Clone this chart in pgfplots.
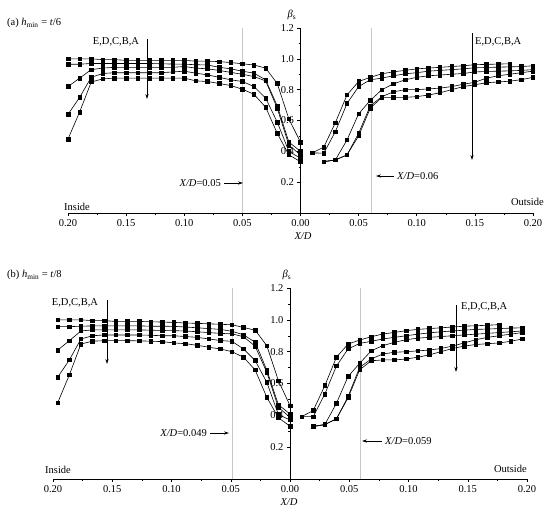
\documentclass[border=0pt]{standalone}
\usepackage{fontspec}
\setmainfont{Liberation Serif}
\usepackage{pgfplots}
\usepackage{pgfplotstable}
\pgfplotsset{compat=1.18}
\usetikzlibrary{arrows.meta}

\pgfplotstableread{
X    c1    c2    c3    c4    c5
0.20 1.00  0.965 0.82  0.64  0.48
0.19 1.00  0.965 0.875 0.75  0.655
0.18 1.00  0.97  0.93  0.88  0.85
0.17 0.995 0.97  0.94  0.905 0.87
0.16 0.995 0.97  0.945 0.91  0.875
0.15 0.99  0.97  0.945 0.91  0.875
0.14 0.99  0.97  0.945 0.91  0.875
0.13 0.99  0.97  0.945 0.91  0.875
0.12 0.99  0.968 0.945 0.91  0.875
0.11 0.99  0.966 0.945 0.915 0.875
0.10 0.99  0.965 0.95  0.92  0.875
0.09 0.985 0.962 0.94  0.907 0.857
0.08 0.985 0.96  0.935 0.896 0.853
0.07 0.982 0.945 0.925 0.88  0.84
0.06 0.976 0.935 0.912 0.864 0.827
0.05 0.968 0.92  0.90  0.853 0.803
0.04 0.96  0.907 0.885 0.82  0.77
0.03 0.94  0.864 0.857 0.745 0.686
0.02 0.84  0.695 0.68  0.59  0.517
0.01 0.61  0.46  0.44  0.40  0.377
0.00 0.46  0.40  0.377 0.355 0.333
}\Ain

\pgfplotstableread{
X    r1    r2    r3    r4    r5
0.01 0.39  0.39  nan   nan   nan
0.02 0.427 0.388 0.333 0.333 0.333
0.03 0.586 0.528 0.344 0.344 0.344
0.04 0.766 0.71  0.474 0.377 0.377
0.05 0.853 0.82  0.643 0.517 0.50
0.06 0.88  0.864 0.73  0.695 0.68
0.07 0.903 0.875 0.80  0.755 0.75
0.08 0.916 0.89  0.838 0.786 0.75
0.09 0.925 0.903 0.864 0.80  0.75
0.10 0.935 0.91  0.88  0.80  0.755
0.11 0.94  0.92  0.89  0.805 0.765
0.12 0.945 0.925 0.895 0.81  0.78
0.13 0.95  0.93  0.90  0.82  0.80
0.14 0.955 0.935 0.905 0.835 0.82
0.15 0.962 0.942 0.915 0.848 0.832
0.16 0.964 0.944 0.918 0.875 0.845
0.17 0.966 0.946 0.92  0.89  0.85
0.18 0.968 0.948 0.922 0.90  0.855
0.19 nan   0.95  0.925 0.91  0.865
0.20 nan   0.955 0.93  0.92  0.88
}\Aout

\pgfplotstableread{
X       c1    c2    c3    c4    c5
0.196   1.00  0.957 0.81  0.64  0.48
0.1862  1.00  0.957 0.869 0.748 0.654
0.1764  1.00  0.96  0.93  0.88  0.848
0.1666  0.995 0.962 0.937 0.90  0.866
0.1568  0.995 0.962 0.937 0.905 0.869
0.147   0.99  0.962 0.937 0.905 0.869
0.1372  0.99  0.962 0.937 0.905 0.869
0.1274  0.99  0.962 0.937 0.905 0.868
0.1176  0.988 0.96  0.935 0.903 0.866
0.1078  0.986 0.96  0.933 0.90  0.863
0.098   0.984 0.959 0.932 0.90  0.855
0.0882  0.98  0.955 0.93  0.895 0.85
0.0784  0.978 0.95  0.925 0.89  0.84
0.0686  0.975 0.945 0.92  0.88  0.828
0.0588  0.972 0.94  0.915 0.87  0.817
0.049   0.969 0.928 0.912 0.865 0.80
0.0392  0.952 0.906 0.894 0.817 0.765
0.0294  0.935 0.859 0.834 0.744 0.685
0.0196  0.838 0.685 0.671 0.608 0.514
0.0098  0.618 0.467 0.45  0.405 0.385
0       0.461 0.408 0.388 0.371 0.332
}\Bin

\pgfplotstableread{
X       r1    r2    r3    r4    r5
0.0098  0.392 0.392 nan   nan   nan
0.0196  0.43  0.392 0.33  0.33  0.33
0.0294  0.587 0.534 0.342 0.342 0.342
0.0392  0.765 0.71  0.476 0.378 0.378
0.049   0.848 0.817 0.644 0.518 0.51
0.0588  0.873 0.852 0.727 0.702 0.686
0.0686  0.894 0.865 0.806 0.754 0.743
0.0784  0.911 0.88  0.838 0.786 0.748
0.0882  0.921 0.89  0.859 0.796 0.748
0.098   0.932 0.90  0.875 0.80  0.754
0.1078  0.94  0.91  0.885 0.805 0.765
0.1176  0.945 0.918 0.89  0.81  0.78
0.1274  0.95  0.925 0.895 0.82  0.80
0.1372  0.955 0.93  0.90  0.835 0.82
0.147   0.96  0.935 0.905 0.855 0.835
0.1568  0.963 0.94  0.91  0.875 0.845
0.1666  0.966 0.942 0.915 0.89  0.85
0.1764  0.97  0.945 0.92  0.90  0.855
0.1862  nan   0.948 0.925 0.91  0.865
0.196   nan   0.95  0.93  0.92  0.88
}\Bout

\pgfplotsset{
  myax/.style={
    scale only axis, xmin=-0.2, xmax=0.2, ymin=0, ymax=1.2,
    axis x line*=bottom, axis y line*=center,
    xtick={-0.2,-0.15,-0.1,-0.05,0,0.05,0.1,0.15,0.2},
    xticklabels={0.20,0.15,0.10,0.05,0.00,0.05,0.10,0.15,0.20},
    minor x tick num=1,
    ytick={0.2,0.4,0.6,0.8,1.0,1.2},
    minor y tick num=1,
    y tick label style={/pgf/number format/.cd,fixed,fixed zerofill,precision=1},
    /pgf/number format/assume math mode=true,
    tick label style={font=\fontsize{10.5}{12}\selectfont},
    tick align=outside,
    major tick length=3pt, minor tick length=1.8pt,
    tick style={black, line width=0.5pt},
    axis line style={line width=0.6pt},
    clip=false,
  },
  ser/.style={black, line width=0.6pt, mark=square*, mark size=1.8pt, mark options={solid}},
  gl/.style={black!22, line width=0.6pt, no marks},
}

\begin{document}
\begin{tikzpicture}[font=\fontsize{10.5}{12}\selectfont,
  arr/.style={-{Stealth[length=5pt,width=3.2pt]}, line width=0.6pt},
  ann/.style={inner sep=0pt}]
\path[use as bounding box] (0,0) rectangle (550pt,-512pt);

% ---------------- panel (a)
\begin{axis}[myax, at={(68pt,-213pt)}, anchor=south west, width=465pt, height=185pt]
\addplot[gl] coordinates {(-0.05,0) (-0.05,1.2)};
\addplot[gl] coordinates {(0.061,0) (0.061,1.2)};
\addplot[ser] table[x expr=-\thisrow{X}, y=c1] {\Ain};
\addplot[ser] table[x expr=-\thisrow{X}, y=c2] {\Ain};
\addplot[ser] table[x expr=-\thisrow{X}, y=c3] {\Ain};
\addplot[ser] table[x expr=-\thisrow{X}, y=c4] {\Ain};
\addplot[ser] table[x expr=-\thisrow{X}, y=c5] {\Ain};
\addplot[ser] table[x=X, y=r1] {\Aout};
\addplot[ser] table[x=X, y=r2] {\Aout};
\addplot[ser] table[x=X, y=r3] {\Aout};
\addplot[ser] table[x=X, y=r4] {\Aout};
\addplot[ser] table[x=X, y=r5] {\Aout};
\end{axis}

\node[ann,anchor=west] at (7pt,-23pt) {(a) \textit{h}\textsubscript{min} = \textit{t}/6};
\node[ann] at (116pt,-42pt) {E,D,C,B,A};
\draw[arr] (147pt,-39pt) -- (147pt,-99pt);
\node[ann,anchor=east] at (221pt,-183pt) {\textit{X/D}=0.05};
\draw[arr] (224pt,-183pt) -- (243pt,-183pt);
\node[ann,anchor=west] at (64pt,-207pt) {Inside};
\draw[arr] (394pt,-176pt) -- (376pt,-176pt);
\node[ann,anchor=west] at (397pt,-176pt) {\textit{X/D}=0.06};
\node[ann,anchor=west] at (475pt,-42pt) {E,D,C,B,A};
\draw[arr] (472pt,-33pt) -- (472pt,-160pt);
\node[ann,anchor=east] at (544pt,-202pt) {Outside};
\node[ann] at (292pt,-15pt) {\textit{β}\textsubscript{s}};
\node[ann] at (303pt,-236pt) {\textit{X/D}};

% ---------------- panel (b)
\begin{axis}[myax, at={(53pt,-479pt)}, anchor=south west, width=474pt, height=191pt]
\addplot[gl] coordinates {(-0.049,0) (-0.049,1.2)};
\addplot[gl] coordinates {(0.059,0) (0.059,1.2)};
\addplot[ser] table[x expr=-\thisrow{X}, y=c1] {\Bin};
\addplot[ser] table[x expr=-\thisrow{X}, y=c2] {\Bin};
\addplot[ser] table[x expr=-\thisrow{X}, y=c3] {\Bin};
\addplot[ser] table[x expr=-\thisrow{X}, y=c4] {\Bin};
\addplot[ser] table[x expr=-\thisrow{X}, y=c5] {\Bin};
\addplot[ser] table[x=X, y=r1] {\Bout};
\addplot[ser] table[x=X, y=r2] {\Bout};
\addplot[ser] table[x=X, y=r3] {\Bout};
\addplot[ser] table[x=X, y=r4] {\Bout};
\addplot[ser] table[x=X, y=r5] {\Bout};
\end{axis}

\node[ann,anchor=west] at (7pt,-275pt) {(b) \textit{h}\textsubscript{min} = \textit{t}/8};
\node[ann] at (75pt,-303pt) {E,D,C,B,A};
\draw[arr] (107pt,-300pt) -- (107pt,-364pt);
\node[ann,anchor=east] at (207pt,-433pt) {\textit{X/D}=0.049};
\draw[arr] (210pt,-433pt) -- (229pt,-433pt);
\node[ann,anchor=west] at (45pt,-470pt) {Inside};
\draw[arr] (382pt,-441pt) -- (362pt,-441pt);
\node[ann,anchor=west] at (385pt,-441pt) {\textit{X/D}=0.059};
\node[ann,anchor=west] at (461pt,-307pt) {E,D,C,B,A};
\draw[arr] (456pt,-305pt) -- (456pt,-372pt);
\node[ann,anchor=east] at (527pt,-469pt) {Outside};
\node[ann] at (287pt,-275pt) {\textit{β}\textsubscript{s}};
\node[ann] at (289pt,-502pt) {\textit{X/D}};
\end{tikzpicture}
\end{document}
